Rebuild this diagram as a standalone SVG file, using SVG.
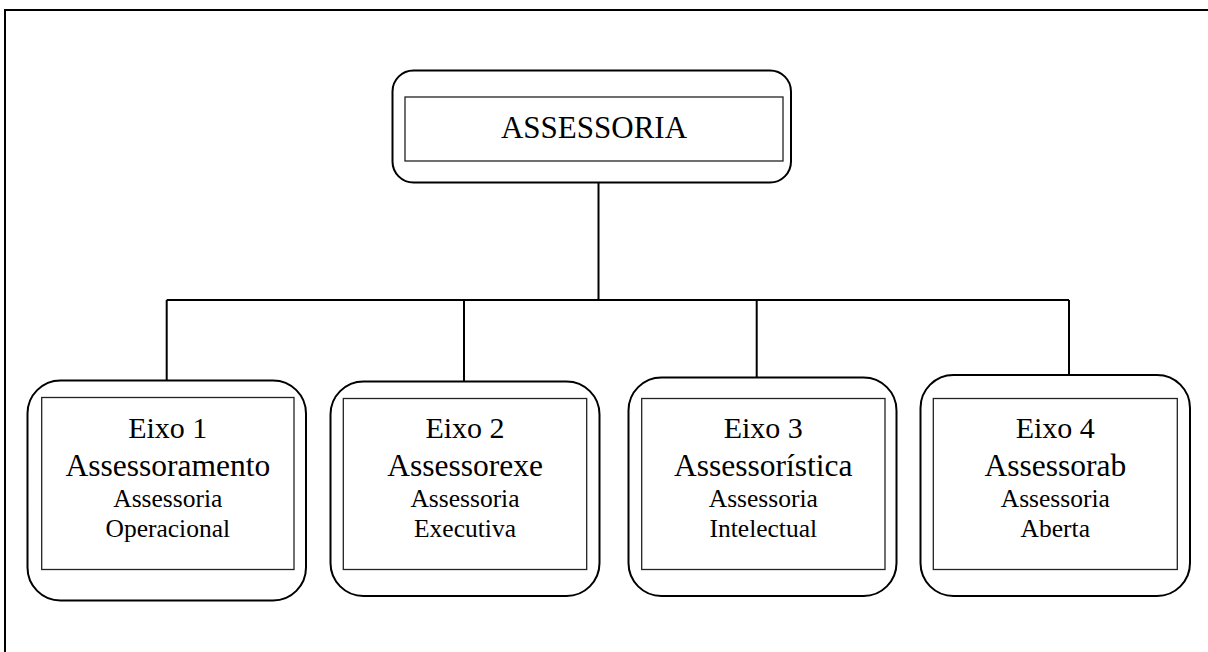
<svg xmlns="http://www.w3.org/2000/svg" width="1208" height="652" viewBox="0 0 1208 652">
  <style>
    .frame { fill: none; stroke: #000; stroke-width: 2; }
    .outer { fill: #fff; stroke: #000; stroke-width: 2; }
    .inner { fill: #fff; stroke: #222; stroke-width: 1.3; }
    .wire { fill: none; stroke: #000; stroke-width: 2; }
    text { font-family: "Liberation Serif", "Times New Roman", serif; fill: #000; text-anchor: middle; }
    .title { font-size: 31px; }
    .l1 { font-size: 30px; }
    .l2 { font-size: 31.5px; }
    .l3 { font-size: 25.5px; }
  </style>
  <rect width="1208" height="652" fill="#fff"/>
  <!-- page border: top and left edges only -->
  <path class="frame" d="M5 652 V10 H1208"/>

  <g id="connectors">
    <path class="wire" d="M598.5 182.5 V300"/>
    <path class="wire" d="M166.7 300 H1069"/>
    <path class="wire" d="M166.7 300 V380.5"/>
    <path class="wire" d="M464 300 V381.5"/>
    <path class="wire" d="M756.7 300 V377.5"/>
    <path class="wire" d="M1069 300 V375"/>
  </g>

  <g id="assessoria">
    <rect class="outer" x="392.5" y="70.5" width="398.5" height="112" rx="21"/>
    <rect class="inner" x="405" y="97" width="378" height="64"/>
    <text class="title" x="594" y="137.5">ASSESSORIA</text>
  </g>

  <g id="eixo1">
    <rect class="outer" x="27.5" y="380.5" width="278.5" height="220" rx="33"/>
    <rect class="inner" x="41.7" y="397.5" width="252.3" height="172"/>
    <text class="l1" x="167.8" y="438.3">Eixo 1</text>
    <text class="l2" x="167.8" y="475.7">Assessoramento</text>
    <text class="l3" x="167.8" y="506.7">Assessoria</text>
    <text class="l3" x="167.8" y="536.5">Operacional</text>
  </g>

  <g id="eixo2">
    <rect class="outer" x="330.5" y="381.5" width="269" height="214.5" rx="33"/>
    <rect class="inner" x="343.3" y="398.5" width="243.4" height="171"/>
    <text class="l1" x="465" y="438.3">Eixo 2</text>
    <text class="l2" x="465" y="475.7">Assessorexe</text>
    <text class="l3" x="465" y="506.7">Assessoria</text>
    <text class="l3" x="465" y="536.5">Executiva</text>
  </g>

  <g id="eixo3">
    <rect class="outer" x="628.5" y="377.5" width="268" height="218.5" rx="33"/>
    <rect class="inner" x="641.7" y="398.5" width="243.3" height="171"/>
    <text class="l1" x="763.3" y="438.3">Eixo 3</text>
    <text class="l2" x="763.3" y="475.7">Assessorística</text>
    <text class="l3" x="763.3" y="506.7">Assessoria</text>
    <text class="l3" x="763.3" y="536.5">Intelectual</text>
  </g>

  <g id="eixo4">
    <rect class="outer" x="920.5" y="375" width="269.5" height="221" rx="33"/>
    <rect class="inner" x="933.3" y="398.5" width="244" height="171"/>
    <text class="l1" x="1055.3" y="438.3">Eixo 4</text>
    <text class="l2" x="1055.3" y="475.7">Assessorab</text>
    <text class="l3" x="1055.3" y="506.7">Assessoria</text>
    <text class="l3" x="1055.3" y="536.5">Aberta</text>
  </g>
</svg>
